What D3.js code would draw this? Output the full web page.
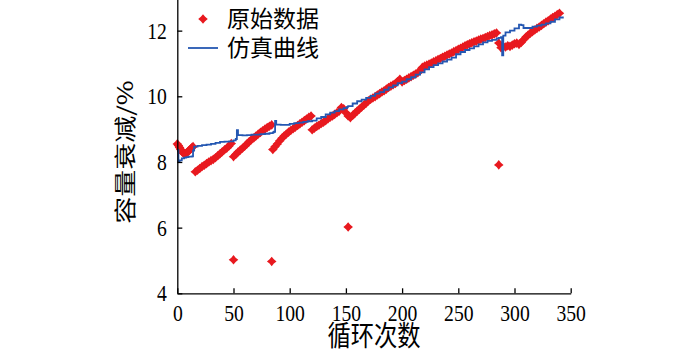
<!DOCTYPE html>
<head>
<meta charset="utf-8">
</head>
<style>
body { margin: 0; background: #fff; }
.axis path, .axis line { stroke: #000; stroke-width: 1.3; }
.label { font-family: "Noto Sans CJK SC", sans-serif; fill: #000; }
</style>
<body>
<svg id="chart" width="700" height="354"></svg>

<script src="https://cdn.jsdelivr.net/npm/d3@7"></script>
<script>

// measured data (cycle -> capacity fade %)
var rawCycles = [0,1,2,3,4,5,6,7,8,9,10,11,12,13,14,
  16,18,20,22,24,26,28,30,32,34,36,38,40,42,44,46,48,
  50,52,54,56,58,60,62,64,66,68,70,72,74,76,78,80,82,84,
  85,87,89,91,93,95,97,99,101,103,105,107,109,111,113,115,117,119,
  120,122,124,126,128,130,132,134,136,138,140,142,144,146,148,150,152,
  154,156,158,160,162,164,166,168,170,172,174,176,178,180,182,184,186,188,190,192,194,196,198,
  200,202,204,206,208,210,212,214,216,218,220,222,224,226,228,230,232,234,236,238,240,242,244,246,248,
  250,252,254,256,258,260,262,264,266,268,270,272,274,276,278,280,282,284,
  286,288,290,292,294,296,298,300,302,304,306,308,310,312,314,316,318,320,322,324,326,328,330,332,334,336,338,340];
var rawValues = [8.55,8.50,8.44,8.38,8.32,8.28,8.26,8.25,8.27,8.30,8.33,8.36,8.40,8.44,8.47,
  7.70,7.75,7.80,7.86,7.90,7.95,8.00,8.04,8.08,8.13,8.19,8.25,8.31,8.37,8.42,8.49,8.56,
  8.16,8.23,8.30,8.36,8.42,8.48,8.55,8.62,8.68,8.73,8.79,8.85,8.90,8.95,9.00,9.05,9.09,9.13,
  8.38,8.47,8.55,8.64,8.72,8.79,8.85,8.91,8.96,9.01,9.06,9.11,9.16,9.21,9.26,9.31,9.36,9.40,
  8.98,9.03,9.08,9.12,9.17,9.21,9.26,9.31,9.36,9.40,9.45,9.50,9.55,9.66,9.62,9.50,9.40,
  9.35,9.42,9.48,9.55,9.61,9.67,9.73,9.79,9.86,9.91,9.95,9.99,10.04,10.08,10.13,10.17,10.22,10.27,10.31,10.35,10.39,10.45,10.52,
  10.44,10.48,10.52,10.56,10.60,10.64,10.68,10.72,10.78,10.88,10.92,10.95,10.98,11.01,11.05,11.08,11.12,11.15,11.19,11.22,11.26,11.29,11.32,11.36,11.39,
  11.43,11.46,11.50,11.54,11.57,11.60,11.63,11.66,11.68,11.71,11.74,11.76,11.79,11.82,11.85,11.87,11.90,11.93,
  11.62,11.48,11.52,11.50,11.54,11.52,11.56,11.60,11.62,11.58,11.64,11.72,11.80,11.86,11.92,11.97,12.02,12.07,12.11,12.16,12.21,12.26,12.30,12.35,12.40,12.44,12.49,12.53];

var outlierCycles = [50, 84, 152, 286];
var outlierValues = [5.02, 4.97, 6.02, 7.91];

// simulation curve
var simCycles = [0,1,2,4,6,8,10,13,14,15,18,22,26,30,34,38,42,46,50,52,53,54,58,62,66,70,74,78,82,85,86,87,88,
  92,96,100,104,108,112,116,120,124,128,132,136,140,144,148,151,152,156,160,164,168,172,176,180,184,188,192,196,
  200,204,208,212,216,220,224,228,232,236,240,244,248,252,256,260,264,268,272,276,280,284,286,288,289,290,292,
  296,300,304,306,308,312,316,320,324,328,332,336,340,343];
var simValues = [8.37,8.02,8.05,8.11,8.13,8.15,8.16,8.17,8.35,8.47,8.49,8.51,8.53,8.55,8.58,8.61,8.62,8.63,8.66,8.70,8.97,8.82,8.81,8.82,8.83,8.83,8.85,8.86,8.88,8.90,8.92,9.25,9.14,
  9.13,9.13,9.16,9.18,9.20,9.22,9.24,9.26,9.33,9.37,9.45,9.50,9.55,9.60,9.64,9.68,9.70,9.78,9.85,9.90,9.95,10.01,10.08,10.13,10.20,10.27,10.33,10.40,
  10.45,10.52,10.58,10.66,10.73,10.82,10.89,10.95,11.00,11.06,11.12,11.18,11.28,11.35,11.41,11.46,11.52,11.58,11.64,11.69,11.72,11.76,11.78,11.80,11.25,11.85,11.95,
  12.00,12.07,12.18,12.17,12.08,12.08,12.12,12.15,12.18,12.22,12.27,12.34,12.40,12.43];

var xTicks = [0, 50, 100, 150, 200, 250, 300, 350];
var yTicks = [4, 6, 8, 10, 12];

var legendNames = ["原始数据", "仿真曲线"];

var svg = d3.select("#chart");

var x = d3.scaleLinear().domain([0, 350]).range([177.3, 570.7]),
    y = d3.scaleLinear().domain([4, 13]).range([293.3, -2.2]);

var red = "#e8191f", blue = "#2457b2";

// 4-point star marker
var star = function(r) {
  var s = r * 0.45;
  return "M0," + (-r) + "L" + s + "," + (-s) + "L" + r + ",0L" + s + "," + s +
    "L0," + r + "L" + (-s) + "," + s + "L" + (-r) + ",0L" + (-s) + "," + (-s) + "Z";
};

var raw = rawCycles.map(function(c, i) { return [c, rawValues[i]]; })
  .concat(outlierCycles.map(function(c, i) { return [c, outlierValues[i]]; }));

svg.append("g").selectAll("path")
  .data(raw)
  .enter().append("path")
    .attr("transform", function(d) { return "translate(" + x(d[0]) + "," + y(d[1]) + ")"; })
    .attr("d", star(4.8))
    .attr("fill", red);

var sim = simCycles.map(function(c, i) { return [c, simValues[i]]; });

svg.append("path")
  .datum(sim)
  .attr("fill", "none")
  .attr("stroke", blue)
  .attr("stroke-width", 1.8)
  .attr("d", d3.line().curve(d3.curveStepAfter).x(function(d) { return x(d[0]); }).y(function(d) { return y(d[1]); }));

// axes
var gx = svg.append("g")
  .attr("class", "axis")
  .attr("transform", "translate(0," + y(4) + ")")
  .call(d3.axisBottom(x).tickValues(xTicks).tickSizeInner(-5).tickSizeOuter(0).tickPadding(11));

var gy = svg.append("g")
  .attr("class", "axis")
  .attr("transform", "translate(" + x(0) + ",0)")
  .call(d3.axisLeft(y).tickValues(yTicks).tickSizeInner(-5).tickSizeOuter(0));

[gx, gy].forEach(function(g) {
  g.selectAll("text")
    .style("font-family", "'Liberation Serif', 'Times New Roman', serif")
    .style("font-size", "24px")
    .attr("fill", "#000");
});
gx.selectAll("text").attr("dy", "0.71em").attr("transform", "scale(0.82,1)");
gy.selectAll("text").attr("x", 0).attr("transform", "translate(-10.5,0) scale(0.82,1)");

svg.append("text")
  .attr("class", "label")
  .attr("transform", "translate(" + (x(0) + x(350)) / 2 + ",346) scale(0.83,1)")
  .attr("text-anchor", "middle")
  .style("font-size", "28px")
  .text("循环次数");

svg.append("text")
  .attr("class", "label")
  .attr("transform", "translate(133,152) rotate(-90) scale(1,0.78)")
  .attr("text-anchor", "middle")
  .style("font-size", "27px")
  .text("容量衰减/%");

// legend
var lg = svg.append("g");
lg.append("path")
  .attr("transform", "translate(203,19)")
  .attr("d", star(4.8))
  .attr("fill", red);
lg.append("line")
  .attr("x1", 188).attr("x2", 218)
  .attr("y1", 48).attr("y2", 48)
  .attr("stroke", blue).attr("stroke-width", 1.8);
lg.selectAll("text.leg")
  .data(legendNames)
  .enter().append("text")
    .attr("class", "label")
    .attr("x", 227)
    .attr("y", function(d, i) { return 19 + i * 29; })
    .attr("dy", "0.35em")
    .style("font-size", "23px")
    .text(function(d) { return d; });

</script>
</body>
